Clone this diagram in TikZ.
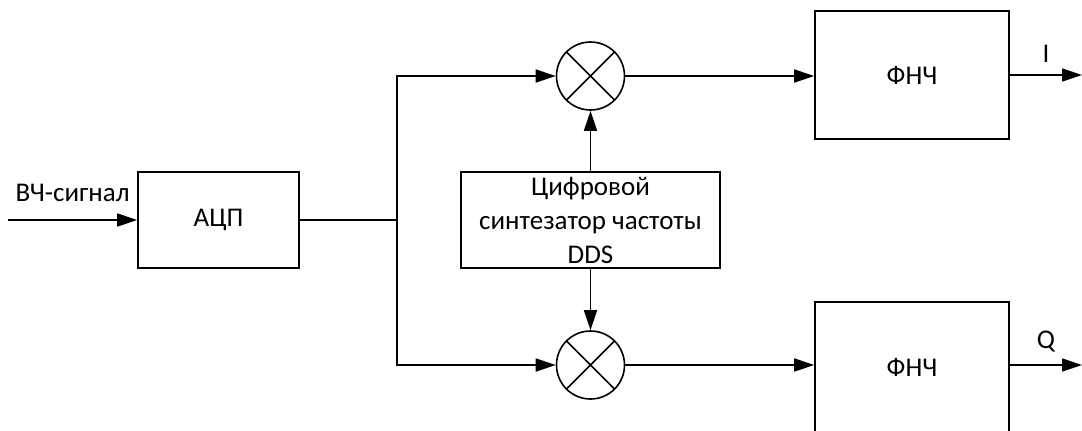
\documentclass[tikz,border=0pt]{standalone}
\usepackage{fontspec}
\setmainfont{Carlito}
\usetikzlibrary{arrows.meta,positioning}

\begin{document}
\begin{tikzpicture}[x=0.5pt,y=-0.5pt,>={Triangle[length=10pt,width=6.5pt]},line width=0.8pt,
  blk/.style={draw,minimum width=#1,inner sep=0pt,align=center,font=\fontsize{13.5}{17}\selectfont},
  mixer/.style={draw,circle,minimum size=34pt,inner sep=0pt},
  lbl/.style={font=\fontsize{13.5}{15}\selectfont,inner sep=2pt}]
  \useasboundingbox (0,0) rectangle (1082,430);
  % blocks
  \node[blk=80.5pt,minimum height=48pt] (adc) at (218.5,220) {АЦП};
  \node[blk=129.5pt,minimum height=48pt] (dds) at (590.5,220) {Цифровой\\синтезатор частоты\\DDS};
  \node[blk=97pt,minimum height=64pt] (lpfI) at (912,75) {ФНЧ};
  \node[blk=97pt,minimum height=65pt] (lpfQ) at (912,367) {ФНЧ};
  \node[mixer] (mixI) at (590.5,76) {};
  \node[mixer] (mixQ) at (590.5,365) {};
  \foreach \m in {mixI,mixQ}{
    \draw (\m.north west) -- (\m.south east) (\m.north east) -- (\m.south west);}
  \coordinate (in) at (8,220);
  \coordinate (split) at (397,220);
  \coordinate (outI) at (1082,75);
  \coordinate (outQ) at (1082,365);
  % connectors
  \draw[->] (in) -- node[lbl,midway,above=7pt] {ВЧ-сигнал} (adc.west);
  \draw (adc.east) -- (split);
  \draw[->] (split) |- (mixI.west);
  \draw[->] (split) |- (mixQ.west);
  \draw[->] (dds.north) -- (mixI.south);
  \draw[->] (dds.south) -- (mixQ.north);
  \draw[->] (mixI.east) -- (lpfI.west |- mixI.east);
  \draw[->] (mixQ.east) -- (lpfQ.west |- mixQ.east);
  \draw[->] (lpfI.east) -- node[lbl,midway,above=4pt] {I} (outI);
  \draw[->] (lpfQ.east |- outQ) -- node[lbl,midway,above=4pt] {Q} (outQ);
\end{tikzpicture}
\end{document}
